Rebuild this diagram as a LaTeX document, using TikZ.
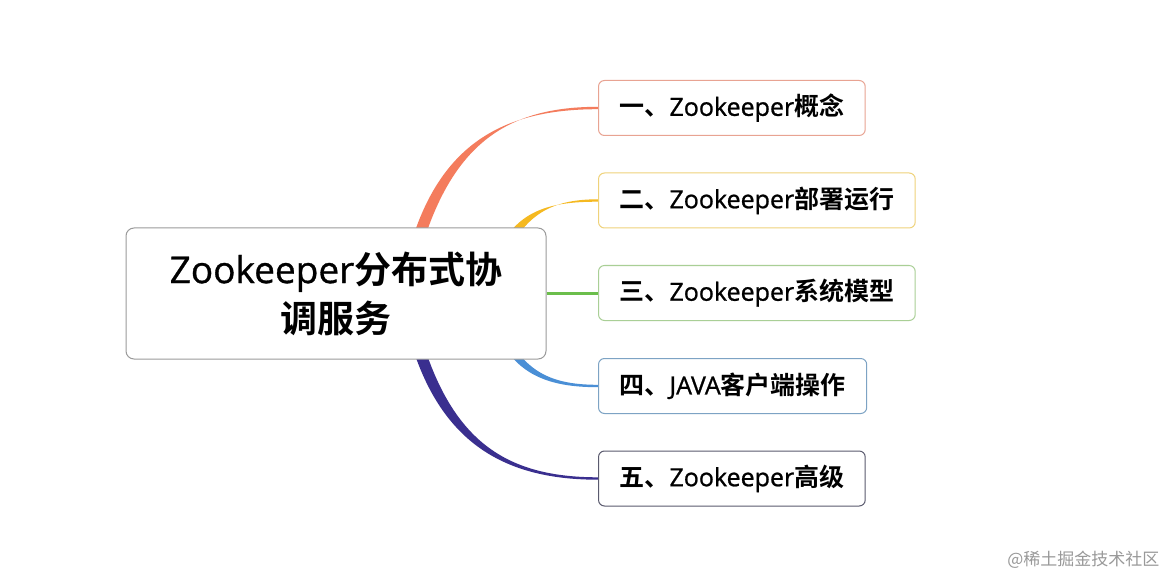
\documentclass[tikz,border=0pt]{standalone}
\usepackage{fontspec}
\setmainfont{Open Sans}[FakeBold=0.9]
\newfontfamily\cjk{Noto Sans CJK SC}[BoldFont={Noto Sans CJK SC Bold}]
\newcommand{\zh}[1]{{\cjk\bfseries #1}}
\usepackage{xcolor}
\usetikzlibrary{positioning,calc,backgrounds}

\definecolor{lineA}{HTML}{F47C5D}
\definecolor{lineB}{HTML}{F5B921}
\definecolor{lineC}{HTML}{6BBE4B}
\definecolor{lineD}{HTML}{4A8FD6}
\definecolor{lineE}{HTML}{3A2F8F}
\definecolor{edgeA}{HTML}{E8A392}
\definecolor{edgeB}{HTML}{EFD27A}
\definecolor{edgeC}{HTML}{A9CF96}
\definecolor{edgeD}{HTML}{7DA3C4}
\definecolor{edgeE}{HTML}{5A5A6E}
\definecolor{rootline}{HTML}{9A9A9A}

% tapered branch: colour, start, control 1, control 2, target node, half width at start
\newcommand{\limb}[6]{%
  \fill[#1] ($(#2)+(#6)$) .. controls ($(#3)+(#6)$) and ($(#4)+(0,-1.2)$) .. ($(#5.west)+(0,-1.2)$)
    -- ($(#5.west)+(0,1.2)$) .. controls ($(#4)+(0,1.2)$) and ($(#3)-(#6)$) .. ($(#2)-(#6)$) -- cycle;}

\tikzset{
  root/.style={draw=rootline, line width=1pt, rounded corners=8pt, fill=white,
    minimum width=420pt, minimum height=131pt, align=center,
    font=\fontsize{37}{49}\selectfont},
  leaf/.style={line width=1pt, rounded corners=6pt, fill=white, anchor=west,
    minimum height=55pt, inner xsep=21pt, font=\fontsize{25}{30}\selectfont},
}

\begin{document}
\begin{tikzpicture}[x=1pt,y=-1pt]
    \useasboundingbox (0,0) rectangle (1169,577);

    % Root
    \node[root] (root) at (336,293.5) {Zookeeper\zh{分布式协}\\\zh{调服务}};

    % Branches
    \foreach \n/\y/\c/\t in {b1/108/edgeA/{\zh{一、}Zookeeper\zh{概念}},
                             b2/200.5/edgeB/{\zh{二、}Zookeeper\zh{部署运行}},
                             b3/293/edgeC/{\zh{三、}Zookeeper\zh{系统模型}},
                             b4/386/edgeD/{\zh{四、}JAVA\zh{客户端操作}},
                             b5/478.5/edgeE/{\zh{五、}Zookeeper\zh{高级}}}
        \node[leaf, draw=\c] (\n) at (598,\y) {\t};

    % Connection lines
    \begin{scope}[on background layer]
        \fill[white] (0,0) rectangle (1169,577);
        \coordinate (s1) at ($(root.center)+(82,-53.5)$);
        \coordinate (s2) at ($(root.center)+(169,-45.5)$);
        \coordinate (s4) at ($(root.center)+(169,46.5)$);
        \coordinate (s5) at ($(root.center)+(82,52.5)$);
        \limb{lineA}{s1}{450,140}{510,108}{b1}{5.5,1.5}
        \limb{lineB}{s2}{525,210}{555,200.5}{b2}{4,2}
        \draw[lineC, line width=3pt] (root.east |- b3.west) -- (b3.west);
        \limb{lineD}{s4}{525,376}{555,386}{b4}{3.5,-2}
        \limb{lineE}{s5}{450,446}{510,478.5}{b5}{5.5,-1.5}
    \end{scope}

    % Watermark
    \node[text=black!40, anchor=east, font=\cjk\fontsize{17}{17}\selectfont] (mark) at (1163,560) {@稀土掘金技术社区};
\end{tikzpicture}
\end{document}
